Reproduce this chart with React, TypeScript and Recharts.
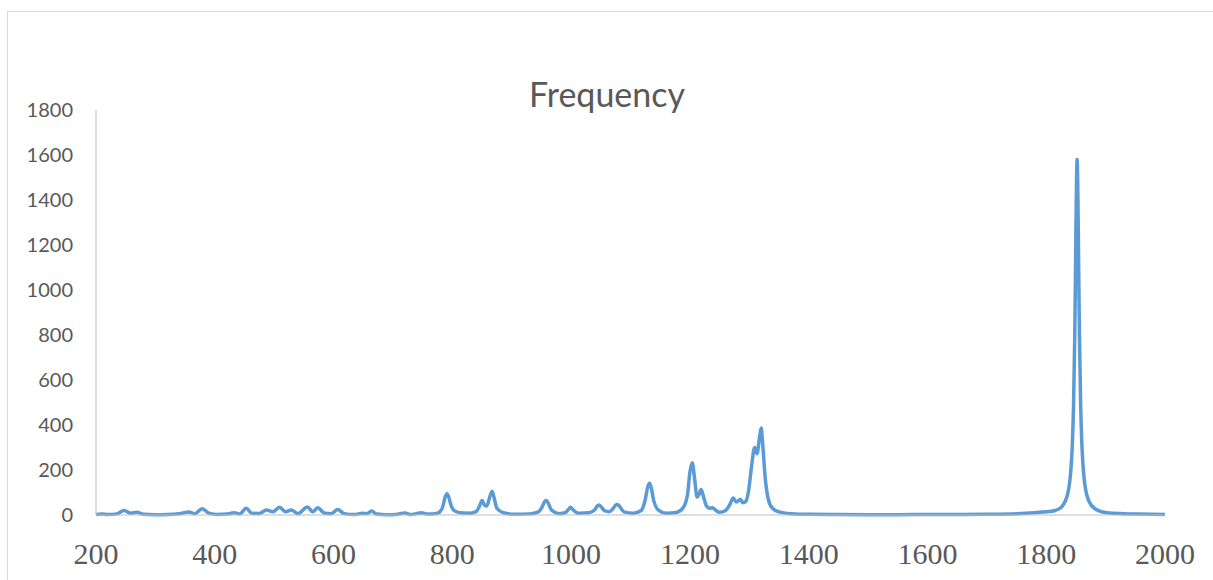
import { LineChart, Line, XAxis, YAxis } from "recharts";

// wavenumber (x) and intensity (y)
const freq = [
  200, 210, 220, 235, 247, 258, 269, 280, 300, 320, 340, 357, 366, 379, 390,
  405, 420, 433, 442, 453, 462, 475, 487, 498, 509, 519, 529, 540, 556, 565,
  573, 585, 596, 607, 618, 635, 649, 656, 664, 672, 690, 705, 720, 730, 748,
  758, 775, 783, 788, 791, 794, 797, 802, 812, 830, 840, 845, 850, 854, 858,
  863, 867, 870, 875, 886, 905, 930, 945, 951, 955, 958, 961, 967, 980, 990,
  996, 999, 1003, 1012, 1030, 1040, 1044, 1047, 1050, 1057, 1064, 1071, 1075,
  1078, 1081, 1089, 1105, 1118, 1125, 1129, 1132, 1135, 1139, 1147, 1160,
  1175, 1188, 1196, 1200, 1204, 1208, 1212, 1215, 1219, 1223, 1228, 1233,
  1238, 1243, 1250, 1260, 1267, 1273, 1278, 1281, 1285, 1289, 1294, 1299,
  1304, 1309, 1313, 1317, 1320, 1323, 1327, 1332, 1339, 1350, 1370, 1400,
  1450, 1500, 1550, 1600, 1650, 1700, 1750, 1780, 1800, 1815, 1826, 1832,
  1836, 1838, 1840, 1842, 1844, 1846, 1848, 1849, 1850, 1851, 1852, 1853,
  1854, 1855, 1856, 1858, 1860, 1862, 1864, 1866, 1868, 1872, 1882, 1902,
  1930, 1955, 2000,
];

const intensity = [
  2, 5, 2, 5, 20, 8, 12, 3, 1, 2, 6, 13, 6, 28, 8,
  2, 4, 10, 5, 30, 8, 7, 22, 14, 35, 14, 22, 6, 36, 14,
  32, 8, 6, 24, 6, 2, 8, 6, 18, 4, 1, 2, 9, 2, 10,
  4, 8, 30, 80, 95, 80, 50, 22, 10, 8, 15, 35, 64, 45, 40,
  80, 106, 80, 30, 10, 3, 5, 14, 35, 58, 64, 55, 22, 6, 10,
  26, 35, 24, 8, 10, 24, 40, 45, 38, 18, 15, 30, 44,
  47, 40, 14, 8, 20, 70, 125, 141, 120, 65, 22, 8,
  10, 30, 90, 190, 232, 160, 80, 90, 113, 80, 40, 30,
  32, 22, 12, 20, 45, 76, 58, 62, 70, 55, 60, 110,
  220, 300, 272, 340, 387, 300, 160, 70, 30, 14, 6, 3,
  2, 1.5, 1.5, 2, 2.5, 3.5, 6, 10, 14, 20, 36, 61,
  93, 119, 158, 218, 316, 486, 790, 1011, 1264, 1487, 1580, 1487,
  1264, 1011, 790, 486, 316, 218, 158, 119, 93, 61, 28, 10,
  6, 4, 2,
];

const xTicks = [200, 400, 600, 800, 1000, 1200, 1400, 1600, 1800, 2000];
const yTicks = [0, 200, 400, 600, 800, 1000, 1200, 1400, 1600, 1800];

const data = freq.map((x, i) => ({ x, y: intensity[i] }));

export default function App() {
  return (
    <div
      style={{
        position: "absolute",
        left: 0,
        top: 0,
        width: 1213,
        height: 580,
        overflow: "hidden",
        background: "#fff",
      }}
    >
      <div
        style={{
          position: "absolute",
          left: 7,
          top: 11,
          width: 1300,
          height: 700,
          border: "1px solid #d9d9d9",
        }}
      />
      <svg
        width={1213}
        height={580}
        style={{ position: "absolute", left: 0, top: 0 }}
      >
        <text
          x={607}
          y={107}
          textAnchor="middle"
          fill="#595959"
          fontFamily="Lato"
          fontSize={34}
        >
          Frequency
        </text>
      </svg>
      <div style={{ position: "absolute", left: 0, top: 0 }}>
        <LineChart
          width={1213}
          height={580}
          data={data}
          margin={{ top: 110, right: 48, bottom: 15, left: 36 }}
        >
          <XAxis
            dataKey="x"
            type="number"
            domain={[200, 2000]}
            ticks={xTicks}
            interval={0}
            height={50}
            stroke="#bfbfbf"
            tickLine={false}
            tickSize={0}
            tickMargin={28}
            tick={{ fill: "#595959", fontSize: 30, fontFamily: "Liberation Serif" }}
          />
          <YAxis
            type="number"
            domain={[0, 1800]}
            ticks={yTicks}
            interval={0}
            width={60}
            stroke="#bfbfbf"
            tickLine={false}
            tickSize={0}
            tickMargin={23}
            tick={{ fill: "#595959", fontSize: 20, fontFamily: "Lato" }}
          />
          <Line
            dataKey="y"
            type="monotone"
            stroke="#5b9bd5"
            strokeWidth={3.5}
            dot={false}
            isAnimationActive={false}
          />
        </LineChart>
      </div>
    </div>
  );
}
